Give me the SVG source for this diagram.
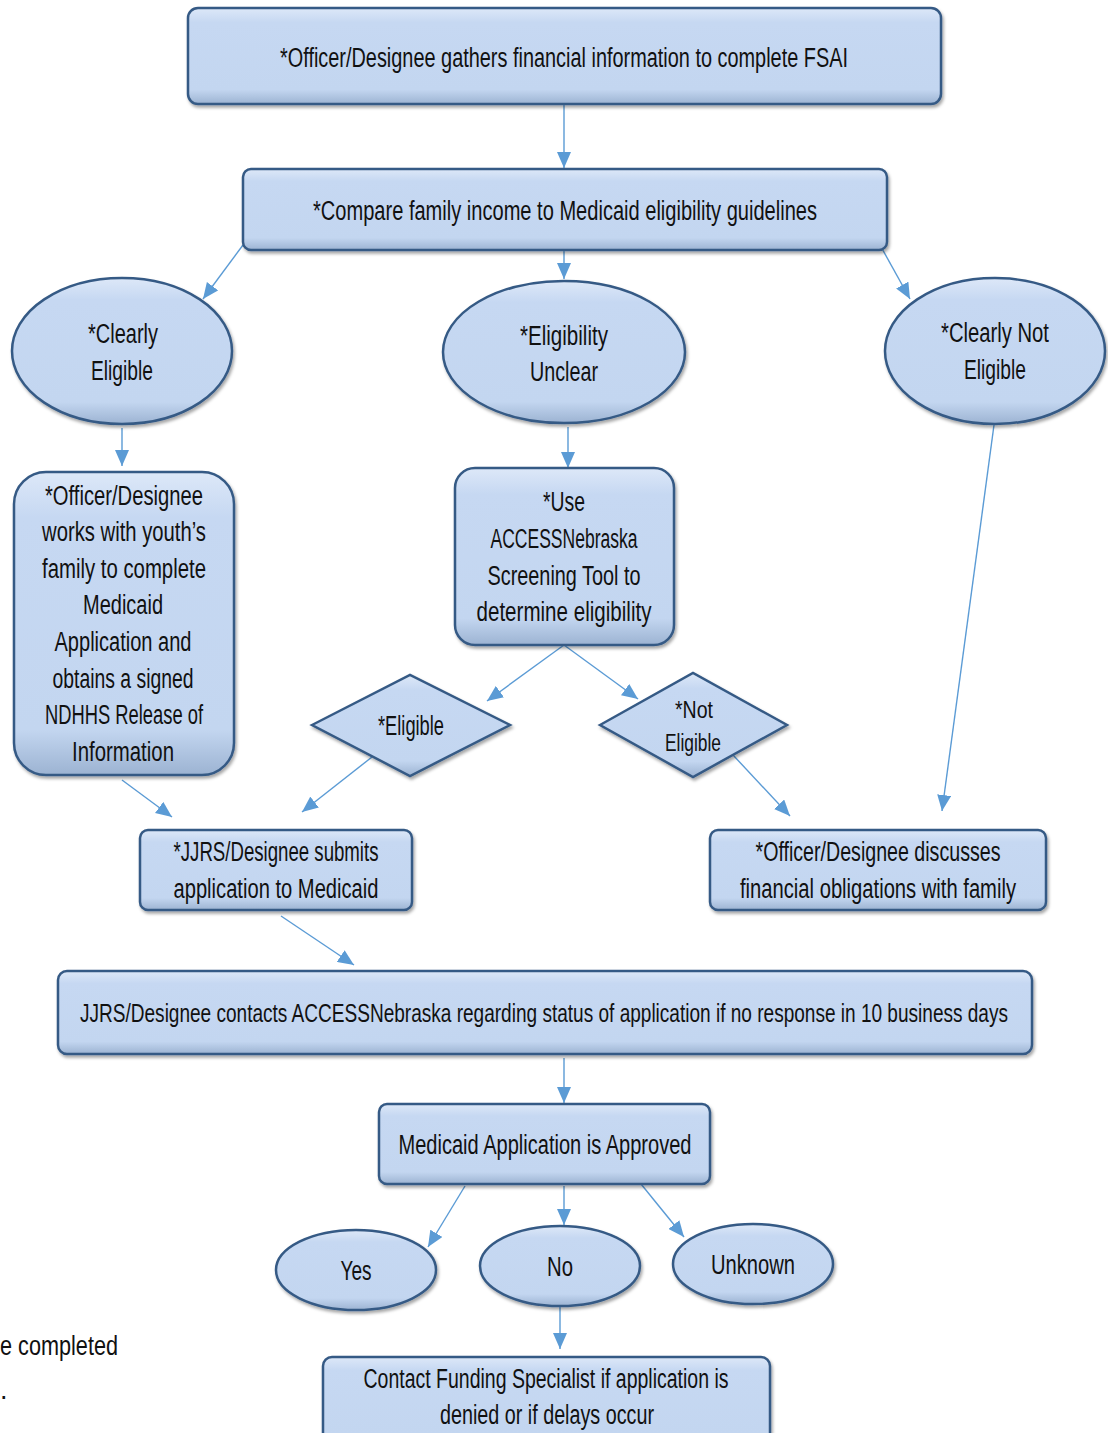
<svg xmlns="http://www.w3.org/2000/svg" width="1108" height="1433" viewBox="0 0 1108 1433">
<style>
.n{fill:url(#g);stroke:#365a85;stroke-width:2.5;filter:url(#sh)}
.t{font-family:"Liberation Sans",Arial,sans-serif;font-size:27px;fill:#111;text-anchor:middle}
.s{font-size:23px}
.w{font-size:21px}
.c line{stroke:#5b9bd5;stroke-width:1.4;marker-end:url(#ah)}
</style>
<defs>
<linearGradient id="g" x1="0" y1="0" x2="0" y2="1">
<stop offset="0" stop-color="#dde8f8"/>
<stop offset="0.15" stop-color="#c6d8f2"/>
<stop offset="0.85" stop-color="#c3d6f0"/>
<stop offset="1" stop-color="#9cb3d2"/>
</linearGradient>
<filter id="sh" x="-10%" y="-10%" width="120%" height="130%">
<feDropShadow dx="1.5" dy="2.5" stdDeviation="1.8" flood-color="#000" flood-opacity="0.35"/>
</filter>
<marker id="ah" markerUnits="userSpaceOnUse" markerWidth="16" markerHeight="14" viewBox="0 0 16 14" refX="16" refY="7" orient="auto">
<path d="M0,0 L16,7 L0,14 z" fill="#5b9bd5"/>
</marker>
</defs>

<g class="c" id="connectors">
<line x1="564" y1="104" x2="564" y2="168"/>
<line x1="243" y1="245" x2="203" y2="299"/>
<line x1="564" y1="250" x2="564" y2="279"/>
<line x1="880" y1="245" x2="910" y2="299"/>
<line x1="122" y1="428" x2="122" y2="466"/>
<line x1="568" y1="427" x2="568" y2="468"/>
<line x1="564" y1="645" x2="487" y2="701"/>
<line x1="564" y1="645" x2="638" y2="699"/>
<line x1="122" y1="780" x2="172" y2="817"/>
<line x1="372" y1="757" x2="302" y2="812"/>
<line x1="733" y1="755" x2="790" y2="816"/>
<line x1="994" y1="425" x2="942" y2="811"/>
<line x1="281" y1="916" x2="354" y2="965"/>
<line x1="564" y1="1058" x2="564" y2="1103"/>
<line x1="465" y1="1186" x2="428" y2="1247"/>
<line x1="564" y1="1186" x2="564" y2="1225"/>
<line x1="641" y1="1184" x2="684" y2="1237"/>
<line x1="560" y1="1306" x2="560" y2="1349"/>
</g>

<g id="gather">
<rect class="n" x="188" y="8" width="753" height="96" rx="10"/>
<text class="t" x="564" y="67" textLength="568" lengthAdjust="spacingAndGlyphs">*Officer/Designee gathers financial information to complete FSAI</text>
</g>
<g id="compare">
<rect class="n" x="243" y="169" width="644" height="81" rx="8"/>
<text class="t" x="565" y="220" textLength="504" lengthAdjust="spacingAndGlyphs">*Compare family income to Medicaid eligibility guidelines</text>
</g>
<g id="clearly-eligible">
<ellipse class="n" cx="122" cy="351" rx="110" ry="73"/>
<text class="t" x="123" y="343" textLength="70" lengthAdjust="spacingAndGlyphs">*Clearly</text>
<text class="t" x="122" y="380" textLength="62" lengthAdjust="spacingAndGlyphs">Eligible</text>
</g>
<g id="eligibility-unclear">
<ellipse class="n" cx="564" cy="352" rx="121" ry="71"/>
<text class="t" x="564" y="345" textLength="88" lengthAdjust="spacingAndGlyphs">*Eligibility</text>
<text class="t" x="564" y="381" textLength="68" lengthAdjust="spacingAndGlyphs">Unclear</text>
</g>
<g id="clearly-not-eligible">
<ellipse class="n" cx="995" cy="351" rx="110" ry="73"/>
<text class="t" x="995" y="342" textLength="108" lengthAdjust="spacingAndGlyphs">*Clearly Not</text>
<text class="t" x="995" y="379" textLength="62" lengthAdjust="spacingAndGlyphs">Eligible</text>
</g>
<g id="works-with-family">
<rect class="n" x="14" y="472" width="220" height="303" rx="32"/>
<text class="t" x="124" y="505" textLength="158" lengthAdjust="spacingAndGlyphs">*Officer/Designee</text>
<text class="t" x="124" y="541" textLength="164" lengthAdjust="spacingAndGlyphs">works with youth’s</text>
<text class="t" x="124" y="578" textLength="164" lengthAdjust="spacingAndGlyphs">family to complete</text>
<text class="t" x="123" y="614" textLength="80" lengthAdjust="spacingAndGlyphs">Medicaid</text>
<text class="t" x="123" y="651" textLength="137" lengthAdjust="spacingAndGlyphs">Application and</text>
<text class="t" x="123" y="688" textLength="141" lengthAdjust="spacingAndGlyphs">obtains a signed</text>
<text class="t" x="124" y="724" textLength="158" lengthAdjust="spacingAndGlyphs">NDHHS Release of</text>
<text class="t" x="123" y="761" textLength="102" lengthAdjust="spacingAndGlyphs">Information</text>
</g>
<g id="screening-tool">
<rect class="n" x="455" y="468" width="219" height="177" rx="20"/>
<text class="t" x="564" y="511" textLength="42" lengthAdjust="spacingAndGlyphs">*Use</text>
<text class="t" x="564" y="548" textLength="147" lengthAdjust="spacingAndGlyphs">ACCESSNebraska</text>
<text class="t" x="564" y="585" textLength="153" lengthAdjust="spacingAndGlyphs">Screening Tool to</text>
<text class="t" x="564" y="621" textLength="175" lengthAdjust="spacingAndGlyphs">determine eligibility</text>
</g>
<g id="eligible">
<polygon class="n" points="312,725 410,675 510,725 410,776"/>
<text class="t" x="411" y="735" textLength="66" lengthAdjust="spacingAndGlyphs">*Eligible</text>
</g>
<g id="not-eligible">
<polygon class="n" points="600,725 693,673 787,725 693,777"/>
<text class="t s" x="694" y="718" textLength="38" lengthAdjust="spacingAndGlyphs">*Not</text>
<text class="t s" x="693" y="751" textLength="56" lengthAdjust="spacingAndGlyphs">Eligible</text>
</g>
<g id="submits">
<rect class="n" x="140" y="830" width="272" height="80" rx="8"/>
<text class="t" x="276" y="861" textLength="205" lengthAdjust="spacingAndGlyphs">*JJRS/Designee submits</text>
<text class="t" x="276" y="898" textLength="205" lengthAdjust="spacingAndGlyphs">application to Medicaid</text>
</g>
<g id="discusses">
<rect class="n" x="710" y="830" width="336" height="80" rx="8"/>
<text class="t" x="878" y="861" textLength="245" lengthAdjust="spacingAndGlyphs">*Officer/Designee discusses</text>
<text class="t" x="878" y="898" textLength="276" lengthAdjust="spacingAndGlyphs">financial obligations with family</text>
</g>
<g id="contacts">
<rect class="n" x="58" y="971" width="974" height="83" rx="9"/>
<text class="t w" transform="translate(544,1022) scale(1,1.2)" x="0" y="0" textLength="928" lengthAdjust="spacingAndGlyphs">JJRS/Designee contacts ACCESSNebraska regarding status of application if no response in 10 business days</text>
</g>
<g id="approved">
<rect class="n" x="379" y="1104" width="331" height="80" rx="8"/>
<text class="t" x="545" y="1154" textLength="293" lengthAdjust="spacingAndGlyphs">Medicaid Application is Approved</text>
</g>
<g id="yes">
<ellipse class="n" cx="356" cy="1270" rx="80" ry="40"/>
<text class="t" x="356" y="1280" textLength="31" lengthAdjust="spacingAndGlyphs">Yes</text>
</g>
<g id="no">
<ellipse class="n" cx="560" cy="1266" rx="80" ry="40"/>
<text class="t" x="560" y="1276" textLength="26" lengthAdjust="spacingAndGlyphs">No</text>
</g>
<g id="unknown">
<ellipse class="n" cx="753" cy="1264" rx="80" ry="40"/>
<text class="t" x="753" y="1274" textLength="84" lengthAdjust="spacingAndGlyphs">Unknown</text>
</g>
<g id="funding-specialist">
<rect class="n" x="323" y="1357" width="447" height="90" rx="9"/>
<text class="t" x="546" y="1388" textLength="365" lengthAdjust="spacingAndGlyphs">Contact Funding Specialist if application is</text>
<text class="t" x="547" y="1424" textLength="214" lengthAdjust="spacingAndGlyphs">denied or if delays occur</text>
</g>
<g id="cut-text">
<text class="t" x="0" y="1355" style="text-anchor:start" textLength="118" lengthAdjust="spacingAndGlyphs">e completed</text>
<text class="t" x="0" y="1399" style="text-anchor:start">.</text>
</g>
</svg>
